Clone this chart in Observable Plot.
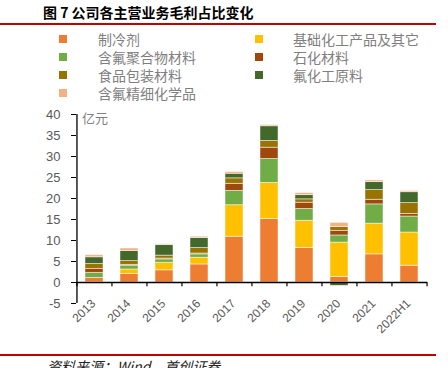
<!DOCTYPE html>
<html><head><meta charset="utf-8">
<script src="https://cdn.jsdelivr.net/npm/d3@7"></script>
<script src="https://cdn.jsdelivr.net/npm/@observablehq/plot@0.6"></script>
<style>
body{margin:0;width:448px;height:368px;overflow:hidden;background:#fff;font-family:"Noto Sans CJK SC",sans-serif;position:relative}
#title{position:absolute;left:43px;top:3px;font-size:14px;font-weight:bold;color:#000;white-space:nowrap;line-height:18px}
.redline{position:absolute;left:0;width:436px;background:#c00000}
.lg-sw{position:absolute;width:8px;height:8px}
.lg-tx{position:absolute;font-size:14px;line-height:15px;color:#7f7f7f;white-space:nowrap}
#unit{position:absolute;left:82px;top:110px;font-size:13px;line-height:16px;color:#7f7f7f}
#chart{position:absolute;left:0;top:100px}
#source{position:absolute;left:47px;top:357px;font-size:14px;font-style:italic;color:#222;white-space:nowrap;line-height:18px}
svg{overflow:visible}
</style></head><body>
<div id="title">图 7 公司各主营业务毛利占比变化</div>
<div class="redline" style="top:23px;height:2px"></div>
<div id="legend"></div>
<div id="unit">亿元</div>
<div id="chart"></div>
<div class="redline" style="top:354px;height:2px"></div>
<div id="source">资料来源：Wind，首创证券</div>
<script>
const years = ["2013","2014","2015","2016","2017","2018","2019","2020","2021","2022H1"];
const seriesNames = ["制冷剂","基础化工产品及其它","含氟聚合物材料","石化材料","食品包装材料","氟化工原料","含氟精细化学品"];
const seriesColors = ["#ed7d31","#ffc000","#70ad47","#9e480e","#997300","#43682b","#f4b183"];
const refrigerant   = [1.1, 2.0, 2.9, 4.3, 10.9, 15.1, 8.2, 1.3, 6.7, 4.0];
const basicChem     = [-0.3, 1.1, 1.8, 1.6, 7.5, 8.6, 6.5, 8.2, 7.3, 7.9];
const fluoroPolymer = [1.2, 0.9, 0.8, 0.8, 3.4, 5.7, 2.8, 1.7, 4.6, 3.8];
const petrochem     = [0.9, 0.2, 0.2, 0.2, 1.7, 2.7, 1.5, 1.1, 1.1, 0.6];
const foodPack      = [1.2, 0.9, 0.7, 1.3, 1.3, 1.6, 0.8, 0.9, 2.3, 2.6];
const fluoroRaw     = [1.6, 2.4, 2.5, 2.4, 1.1, 3.5, 1.0, -0.8, 1.9, 2.6];
const fineChem      = [0.5, 0.6, 0.2, 0.3, 0.4, 0.3, 0.5, 1.0, 0.4, 0.3];
const yTicks = [-5, 0, 5, 10, 15, 20, 25, 30, 35, 40];

const seriesValues = [refrigerant, basicChem, fluoroPolymer, petrochem, foodPack, fluoroRaw, fineChem];
const table = [];
seriesNames.forEach((s, si) => years.forEach((y, yi) => table.push({year: y, series: s, value: seriesValues[si][yi]})));

// legend
const lg = document.getElementById("legend");
seriesNames.forEach((s, i) => {
  const col = i % 2, row = Math.floor(i / 2);
  const sw = document.createElement("div");
  sw.className = "lg-sw";
  sw.style.left = (col ? 255 : 59) + "px";
  sw.style.top = (35 + row * 18) + "px";
  sw.style.background = seriesColors[i];
  lg.appendChild(sw);
  const tx = document.createElement("div");
  tx.className = "lg-tx";
  tx.style.left = (col ? 293 : 98) + "px";
  tx.style.top = (31.5 + row * 18) + "px";
  tx.textContent = s;
  lg.appendChild(tx);
});

const W = 448, H = 260, mL = 76, mR = 21, mT = 14, mB = 57;
const step = (W - mL - mR) / years.length;

const chart = Plot.plot({
  width: W, height: H,
  marginLeft: mL, marginRight: mR, marginTop: mT, marginBottom: mB,
  style: {fontFamily: "'Liberation Sans', Arial, sans-serif", background: "transparent"},
  x: {domain: years, paddingInner: 0.5, paddingOuter: 0.25, axis: null},
  y: {domain: [-5, 40]},
  color: {domain: seriesNames, range: seriesColors},
  marks: [
    Plot.barY(table, {x: "year", y: "value", fill: "series", order: seriesNames, stroke: "#fff", strokeOpacity: 0.6, strokeWidth: 0.8}),
    Plot.axisY({ticks: yTicks, tickSize: 5, tickPadding: 11, tickFormat: d => String(d), fontSize: 13, fill: "#595959", stroke: "#000", label: null}),
    Plot.ruleX([years[0]], {y1: -5, y2: 40, dx: -step / 2, stroke: "#000", strokeWidth: 1.3}),
    Plot.ruleY([0], {stroke: "#000", strokeWidth: 1.5}),
    Plot.ruleX(years, {x: d => d, y1: 0, y2: -1, dx: -step / 2, stroke: "#000", strokeWidth: 1.2}),
    Plot.ruleX([years[years.length - 1]], {y1: 0, y2: -1, dx: step / 2, stroke: "#000", strokeWidth: 1.2}),
    Plot.text(years, {x: d => d, y: d => 0, text: d => d, rotate: -45, textAnchor: "end", lineAnchor: "middle", dy: 19, dx: -1, fontSize: 12, fill: "#595959"})
  ]
});
document.getElementById("chart").appendChild(chart);
</script>
</body></html>
